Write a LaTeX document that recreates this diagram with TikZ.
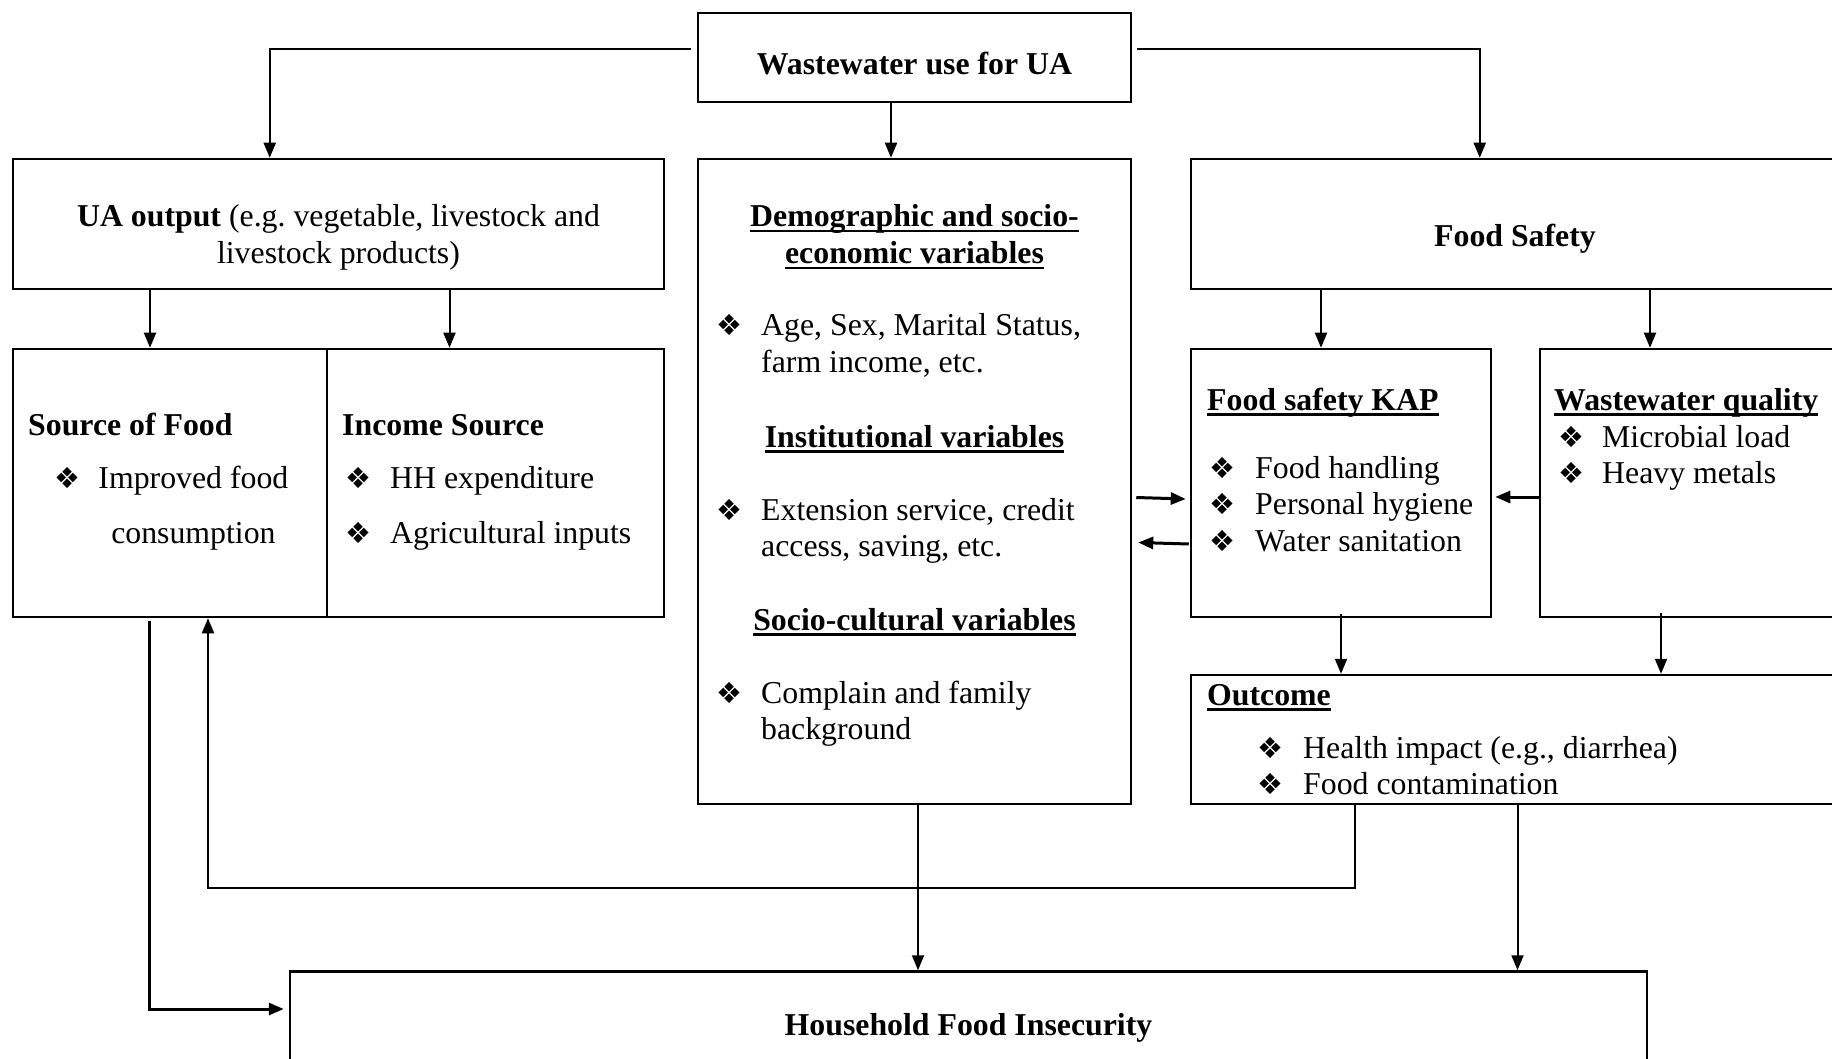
\documentclass[tikz,border=0pt]{standalone}
\usepackage{fontspec}
\setmainfont{Liberation Serif}
\newfontfamily\dingfont{DejaVu Sans}
\usetikzlibrary{arrows.meta}
\frenchspacing

\newsavebox{\hdbox}
\newcommand{\hd}[1]{\sbox{\hdbox}{\textbf{#1}}\rlap{\rule[-5.5pt]{\wd\hdbox}{2.4pt}}\usebox{\hdbox}}
\newcommand{\bul}{{\dingfont\fontsize{29}{29}\selectfont ❖}}

\begin{document}
\begin{tikzpicture}[x=1pt,y=-1pt,
  font=\fontsize{31.8}{36.5}\selectfont,
  box/.style={draw,line width=2.5pt,inner sep=0pt},
  txt/.style={anchor=base west,inner sep=0pt,align=left},
  ctxt/.style={anchor=base,inner sep=0pt,align=center},
  arr/.style={-{Triangle[length=15pt,width=12pt]},line width=2pt},
  thickarr/.style={arr,line width=3pt}]

  \useasboundingbox (0,0) rectangle (1832,1059);
  \clip (0,0) rectangle (1832,1059);

  % boxes
  \node[box,minimum width=433pt,minimum height=89pt] (ww) at (914.5,57.5) {};
  \node[box,minimum width=651pt,minimum height=130pt] (uaout) at (338.5,224) {};
  \node[box,minimum width=433pt,minimum height=645pt] (demog) at (914.5,481.5) {};
  \node[box,minimum width=648pt,minimum height=130pt] (fsafe) at (1515,224) {};
  \node[box,minimum width=314pt,minimum height=268pt] (srcfood) at (170,483) {};
  \node[box,minimum width=337pt,minimum height=268pt] (income) at (495.5,483) {};
  \node[box,minimum width=300pt,minimum height=268pt] (kap) at (1341,483) {};
  \node[box,minimum width=320pt,minimum height=268pt] (wwq) at (1700,483) {};
  \node[box,minimum width=668pt,minimum height=129pt] (outc) at (1525,739.5) {};
  \node[box,minimum width=1357pt,minimum height=137pt] (hfi) at (968.5,1040) {};

  % texts (multi-line nodes sit on their last baseline)
  \node[ctxt] (wwtxt) at (914.5,75) {\textbf{Wastewater use for UA}};
  \node[ctxt] (uatxt) at (338.5,263.5) {\textbf{UA output} (e.g. vegetable, livestock and\\livestock products)};
  \node[ctxt] (demtxt) at (914.5,263.5) {\hd{Demographic and socio-}\\\hd{economic variables}};
  \node[txt] (agebul) at (716,336) {\bul};
  \node[txt] (agetxt) at (761,372.5) {Age, Sex, Marital Status,\\farm income, etc.};
  \node[ctxt] (insttxt) at (914.5,447) {\hd{Institutional variables}};
  \node[txt] (extbul) at (716,520) {\bul};
  \node[txt] (exttxt) at (761,556.5) {Extension service, credit\\access, saving, etc.};
  \node[ctxt] (soctxt) at (914.5,630) {\hd{Socio-cultural variables}};
  \node[txt] (combul) at (716,703) {\bul};
  \node[txt] (comtxt) at (761,739.5) {Complain and family\\background};

  \node[ctxt] (fstxt) at (1515,247) {\textbf{Food Safety}};
  \node[txt] (kaptxt) at (1207,410) {\hd{Food safety KAP}};
  \node[txt] (kapbul) at (1209,551) {\bul\\\bul\\\bul};
  \node[txt] (kapitems) at (1255,551) {Food handling\\Personal hygiene\\Water sanitation};
  \node[txt] (wqtxt) at (1554,410) {\hd{Wastewater quality}};
  \node[txt] (wqbul) at (1558,483.5) {\bul\\\bul};
  \node[txt] (wqitems) at (1602,483.5) {Microbial load\\Heavy metals};
  \node[txt] (outtxt) at (1207,705) {\hd{Outcome}};
  \node[txt] (outbul) at (1257,794.5) {\bul\\\bul};
  \node[txt] (outitems) at (1303,794.5) {Health impact (e.g., diarrhea)\\Food contamination};

  \node[txt] (srctxt) at (28,435) {\textbf{Source of Food}};
  \node[txt] (srcbul) at (54,488) {\bul};
  \node[ctxt] (srcitems) at (193.4,543) {Improved food\\[18.5pt]consumption};
  \node[txt] (inctxt) at (342,435) {\textbf{Income Source}};
  \node[txt] (incbul) at (345,543) {\bul\\[18.5pt]\bul};
  \node[txt] (incitems) at (390,543) {HH expenditure\\[18.5pt]Agricultural inputs};

  \node[ctxt] (hfitxt) at (968.5,1035) {\textbf{Household Food Insecurity}};

  % arrows
  \draw[arr] ([xshift=-6pt,yshift=8pt]ww.west) -| ([xshift=258pt]uaout.north west);
  \draw[arr] ([xshift=5pt,yshift=8pt]ww.east) -| ([xshift=290pt]fsafe.north west);
  \path[arr]
  ([xshift=-23.5pt]ww.south) edge ([xshift=-23.5pt]demog.north)
  ([xshift=-20pt]srcfood.north |- uaout.south) edge ([xshift=-20pt]srcfood.north)
  ([xshift=-46pt]income.north |- uaout.south) edge ([xshift=-46pt]income.north)
  ([xshift=-20pt]kap.north |- fsafe.south) edge ([xshift=-20pt]kap.north)
  ([xshift=-50pt]wwq.north |- fsafe.south) edge ([xshift=-50pt]wwq.north)
  ([yshift=4pt]kap.south) edge (kap.south |- outc.north)
  ([xshift=-39pt,yshift=5pt]wwq.south) edge ([xshift=-39pt]wwq.south |- outc.north)
  ([xshift=3.5pt]demog.south) edge ([xshift=3.5pt]demog.south |- hfi.north)
  ([xshift=-7.5pt]outc.south) edge ([xshift=-7.5pt]outc.south |- hfi.north);
  \path[thickarr]
  ([xshift=4pt,yshift=-16pt]demog.east) edge ([xshift=-4pt,yshift=-16pt]kap.west)
  ([xshift=-1pt,yshift=-61pt]kap.west) edge ([xshift=6pt,yshift=-61pt]demog.east)
  ([yshift=-14pt]wwq.west) edge ([xshift=3pt,yshift=-14pt]kap.east);
  \draw[arr] ([xshift=-170pt]outc.south) -- ++(0,83) -| ([xshift=38pt]srcfood.south);
  \draw[thickarr] ([xshift=-20.5pt,yshift=-3pt]srcfood.south) |- ([xshift=-5pt,yshift=31pt]hfi.west);
\end{tikzpicture}
\end{document}
